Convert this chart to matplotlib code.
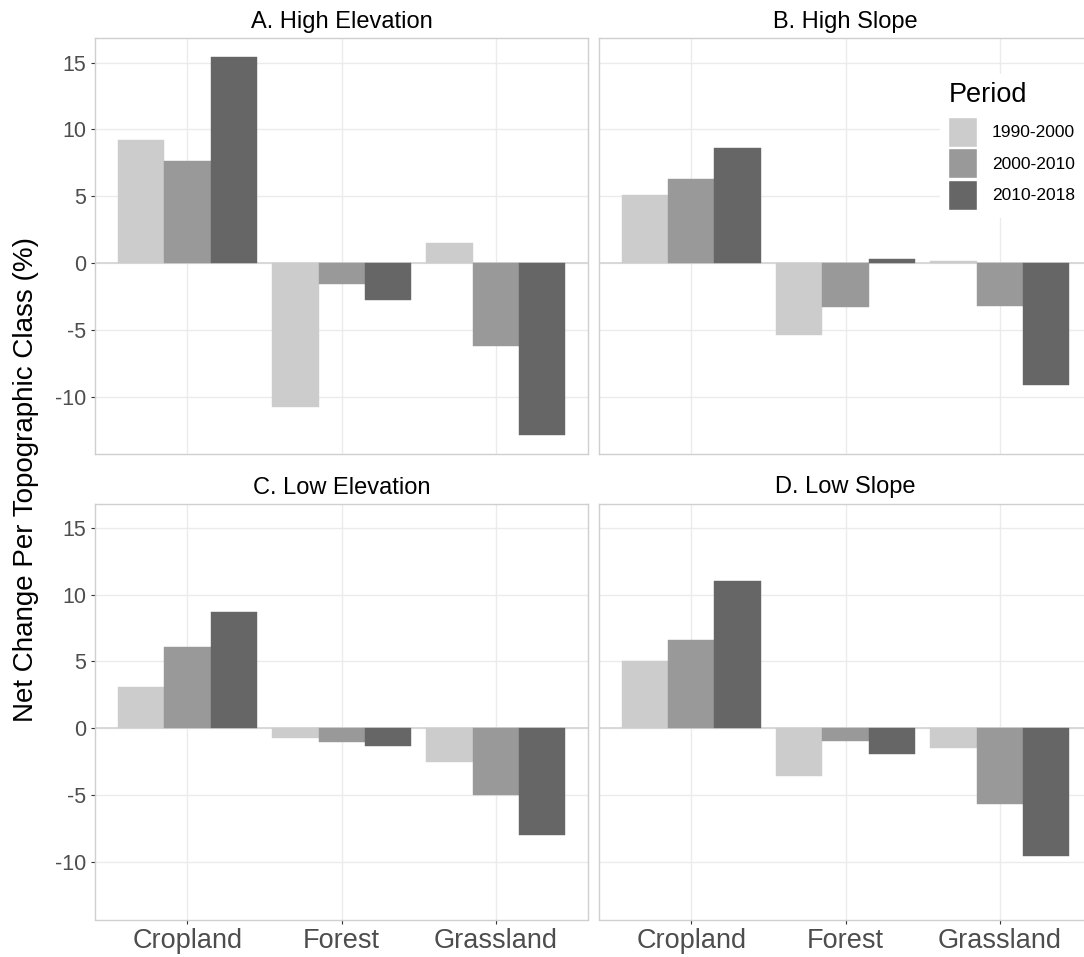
import numpy as np
import matplotlib.pyplot as plt
from matplotlib.patches import Patch

plt.rcParams['font.family'] = ['Liberation Sans', 'DejaVu Sans']

# figure size in pixels (dpi 100)
W, H = 1084, 957

# data
land_classes = ["Cropland", "Forest", "Grassland"]
periods = ["1990-2000", "2000-2010", "2010-2018"]
period_colors = ["#CCCCCC", "#999999", "#666666"]
panel_titles = ["A. High Elevation", "B. High Slope", "C. Low Elevation", "D. Low Slope"]

# each row: one land class, values per period
high_elevation = [[9.2, 7.6, 15.4], [-10.8, -1.6, -2.8], [1.5, -6.2, -12.9]]
high_slope = [[5.1, 6.3, 8.6], [-5.4, -3.3, 0.3], [0.15, -3.2, -9.1]]
low_elevation = [[3.05, 6.1, 8.7], [-0.7, -1.0, -1.3], [-2.5, -5.0, -8.0]]
low_slope = [[5.0, 6.6, 11.0], [-3.6, -0.95, -1.95], [-1.45, -5.65, -9.55]]
panel_data = [high_elevation, high_slope, low_elevation, low_slope]

y_ticks = [-10, -5, 0, 5, 10, 15]

# shared y range with ggplot-like 5% expansion
all_vals = np.array(panel_data).ravel()
lo, hi = all_vals.min(), all_vals.max()
pad = 0.05 * (hi - lo)
ylim = (lo - pad, hi + pad)

# panel boxes in pixels: (left, top, right, bottom)
boxes = [(95, 38.3, 588.3, 454.3), (598.7, 38.3, 1092.5, 454.3),
         (95, 503.5, 588.3, 919.5), (598.7, 503.5, 1092.5, 919.5)]

fig = plt.figure(figsize=(W / 100, H / 100), dpi=100)
fig.patch.set_facecolor("white")

x = np.arange(1, len(land_classes) + 1)
bar_w = 0.3
grid_c = "#EBEBEB"
border_c = "#CFCFCF"

axes = []
for i, (l, t, r, b) in enumerate(boxes):
    ax = fig.add_axes([l / W, 1 - b / H, (r - l) / W, (b - t) / H])
    axes.append(ax)
    vals = np.array(panel_data[i])
    for j in range(len(periods)):
        ax.bar(x + (j - 1) * bar_w, vals[:, j], width=bar_w,
               color=period_colors[j], edgecolor=period_colors[j],
               linewidth=0.3, zorder=3, label=periods[j])
    ax.axhline(0, color="#D6D6D6", lw=1.3, zorder=2)
    ax.set_xlim(0.4, 3.6)
    ax.set_ylim(*ylim)
    ax.set_xticks(x)
    ax.set_yticks(y_ticks)
    ax.grid(True, color=grid_c, lw=1.0, zorder=0)
    ax.set_axisbelow(True)
    for s in ax.spines.values():
        s.set_color(border_c)
        s.set_linewidth(1.0)
    ax.tick_params(colors="#333333", labelcolor="#4D4D4D", length=3.2, width=0.8)

    # only outer panels get tick labels
    if i in (0, 2):
        ax.set_yticklabels([str(v) for v in y_ticks], fontsize=15.5)
        ax.tick_params(axis="y", pad=3)
    else:
        ax.tick_params(axis="y", length=0, labelleft=False)
    if i in (2, 3):
        ax.set_xticklabels(land_classes, fontsize=19.5)
        ax.tick_params(axis="x", pad=3)
    else:
        ax.tick_params(axis="x", length=0, labelbottom=False)

    # panel title above the box
    fig.text((l + r) / 2 / W, 1 - (t - 10) / H, panel_titles[i],
             ha="center", va="baseline", fontsize=17, color="black")

fig.text(26 / W, 1 - 479.5 / H, "Net Change Per Topographic Class (%)",
         rotation=90, ha="center", va="center", fontsize=20, color="black")

handles = [Patch(facecolor=c, edgecolor="white", linewidth=1.0) for c in period_colors]
leg = axes[1].legend(handles, periods, title="Period", loc="upper left",
                     bbox_to_anchor=(931 / W, 1 - 65 / H),
                     bbox_transform=fig.transFigure,
                     fontsize=12.5, title_fontsize=19.5,
                     handlelength=1.67, handleheight=2.25,
                     labelspacing=0.1, handletextpad=0.85,
                     borderpad=0.5, frameon=True, fancybox=False,
                     alignment="left")
leg._legend_box.sep = 6.3  # extra room under the title
leg.get_frame().set_facecolor("white")
leg.get_frame().set_edgecolor("none")
leg.get_frame().set_alpha(1)
leg.set_zorder(10)

fig.savefig("out.png", dpi=100)
